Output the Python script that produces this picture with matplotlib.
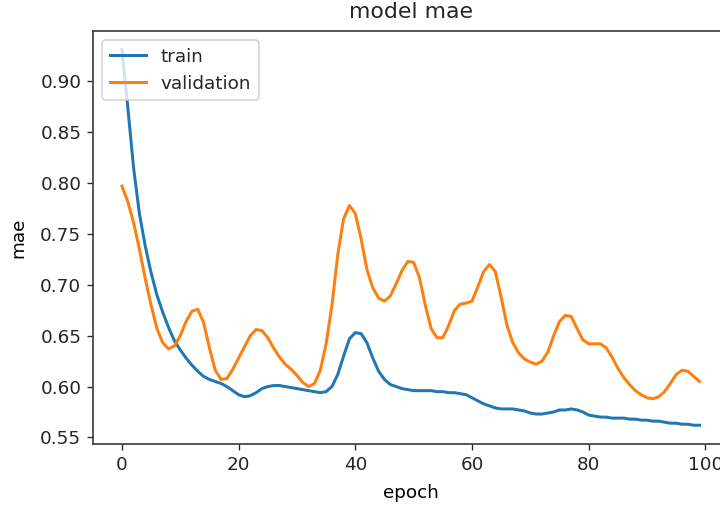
import matplotlib
matplotlib.use('Agg')
import matplotlib.pyplot as plt

# mean absolute error per epoch
train_mae = [
    0.931, 0.875, 0.815, 0.770, 0.738, 0.712, 0.690, 0.673, 0.658, 0.645,
    0.636, 0.628, 0.621, 0.615, 0.610, 0.607, 0.605, 0.603, 0.600, 0.596,
    0.592, 0.590, 0.591, 0.594, 0.598, 0.600, 0.601, 0.601, 0.600, 0.599,
    0.598, 0.597, 0.596, 0.595, 0.594, 0.595, 0.600, 0.612, 0.630, 0.647,
    0.653, 0.652, 0.643, 0.628, 0.615, 0.607, 0.602, 0.600, 0.598, 0.597,
    0.596, 0.596, 0.596, 0.596, 0.595, 0.595, 0.594, 0.594, 0.593, 0.592,
    0.589, 0.586, 0.583, 0.581, 0.579, 0.578, 0.578, 0.578, 0.577, 0.576,
    0.574, 0.573, 0.573, 0.574, 0.575, 0.577, 0.577, 0.578, 0.577, 0.575,
    0.572, 0.571, 0.570, 0.570, 0.569, 0.569, 0.569, 0.568, 0.568, 0.567,
    0.567, 0.566, 0.566, 0.565, 0.564, 0.564, 0.563, 0.563, 0.562, 0.562,
]
val_mae = [
    0.797, 0.782, 0.761, 0.735, 0.706, 0.680, 0.657, 0.643, 0.637, 0.640,
    0.650, 0.664, 0.674, 0.676, 0.663, 0.638, 0.616, 0.607, 0.608, 0.617,
    0.628, 0.639, 0.650, 0.656, 0.655, 0.648, 0.638, 0.629, 0.622, 0.617,
    0.611, 0.604, 0.600, 0.603, 0.616, 0.642, 0.680, 0.730, 0.765, 0.778,
    0.770, 0.745, 0.715, 0.697, 0.687, 0.684, 0.689, 0.701, 0.714, 0.723,
    0.722, 0.707, 0.680, 0.657, 0.648, 0.648, 0.660, 0.675, 0.681, 0.682,
    0.684, 0.698, 0.713, 0.720, 0.713, 0.688, 0.660, 0.643, 0.633, 0.627,
    0.624, 0.622, 0.625, 0.634, 0.650, 0.664, 0.670, 0.669, 0.657, 0.646,
    0.642, 0.642, 0.642, 0.638, 0.629, 0.618, 0.609, 0.602, 0.596, 0.592,
    0.589, 0.588, 0.590, 0.595, 0.603, 0.612, 0.616, 0.615, 0.610, 0.605,
]
epochs = list(range(len(train_mae)))

plt.rcParams['font.size'] = 11
plt.rcParams['text.color'] = '#262626'
plt.rcParams['xtick.color'] = '#262626'
plt.rcParams['ytick.color'] = '#262626'
plt.rcParams['axes.edgecolor'] = '#3a3a3a'
plt.rcParams['axes.linewidth'] = 1.0

fig = plt.figure(figsize=(6, 4.25), dpi=120)
ax = fig.add_axes([0.1292, 0.1294, 0.8825, 0.8098])
ax.plot(epochs, train_mae, lw=1.8)
ax.plot(epochs, val_mae, lw=1.8)
ax.set_title('model mae', pad=8)
ax.set_ylabel('mae', labelpad=8)
ax.set_xlabel('epoch', labelpad=6)
ax.legend(['train', 'validation'], loc='upper left')
fig.savefig('out.png', dpi=120)
